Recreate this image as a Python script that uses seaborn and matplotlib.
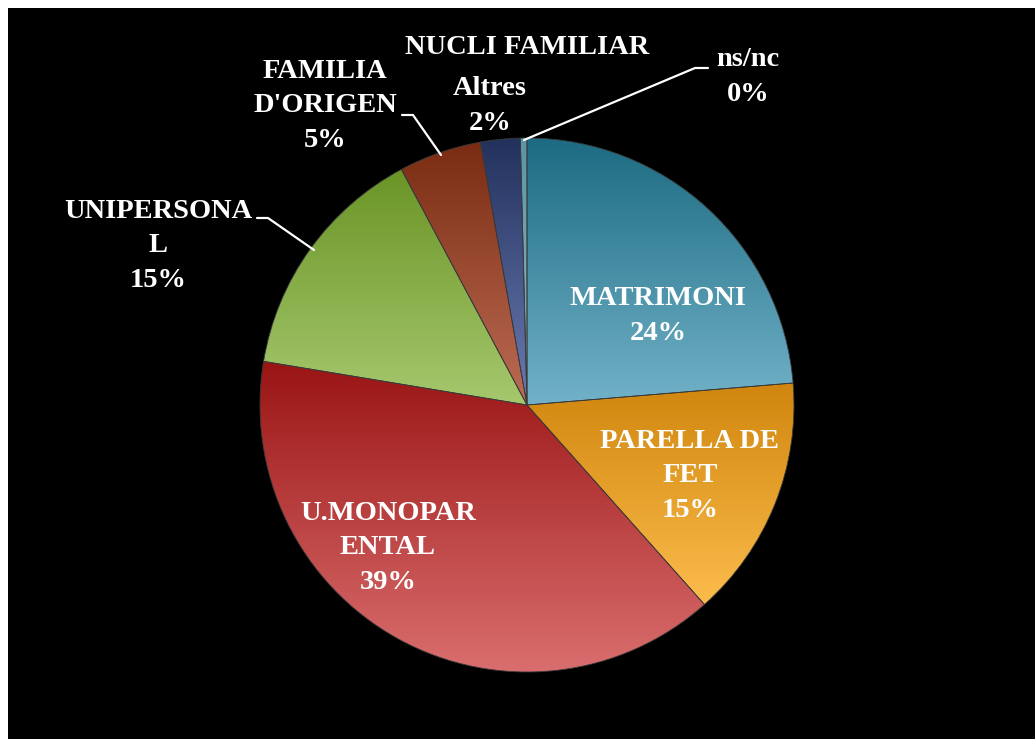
"""
Pie chart: NUCLI FAMILIAR (family unit distribution).
"""

import numpy as np
import matplotlib.pyplot as plt
import seaborn as sns
from matplotlib.colors import LinearSegmentedColormap

sns.set_style("dark")
plt.rcParams['font.family'] = ['Liberation Serif', 'DejaVu Serif']

# Data (clockwise from 12 o'clock)
categories = ["MATRIMONI", "PARELLA DE FET", "U.MONOPARENTAL", "UNIPERSONAL",
              "FAMILIA D'ORIGEN", "Altres", "ns/nc"]
shares = [23.7, 14.75, 39.2, 14.6, 5.0, 2.4, 0.4]
label_text = ["MATRIMONI\n24%", "PARELLA DE\nFET\n15%", "U.MONOPAR\nENTAL\n39%",
              "UNIPERSONA\nL\n15%", "FAMILIA\nD'ORIGEN\n5%", "Altres\n2%", "ns/nc\n0%"]
top_colors = ["#1c6b82", "#d0860e", "#9a1414", "#6a9426", "#7a2c12", "#22315c", "#5a96a6"]
bottom_colors = ["#72b2c8", "#fcbc4c", "#da6e6e", "#a6c86e", "#bc6c54", "#6c7cb4", "#8cbac6"]

W, H = 1035, 739
CX, CY, R = 527, 405, 267

fig = plt.figure(figsize=(W / 100, H / 100), dpi=100, facecolor="white")
bg = fig.add_axes([8 / W, 0, 1 - 8 / W, 1 - 8 / H])
bg.set_facecolor("black")
bg.set_xticks([])
bg.set_yticks([])
for s in bg.spines.values():
    s.set_visible(False)

ax = fig.add_axes([(CX - R) / W, (H - CY - R) / H, 2 * R / W, 2 * R / H])
ax.set_facecolor("none")
wedges, _ = ax.pie(shares, startangle=90, counterclock=False, radius=1,
                   wedgeprops=dict(linewidth=0.6, edgecolor="#3a3a3a"))
ax.set_xlim(-1, 1)
ax.set_ylim(-1, 1)
ax.set_aspect("equal")
ax.axis("off")

# vertical gradient fill per wedge, dark at the top
grad = np.linspace(0, 1, 256).reshape(-1, 1)
for w, c0, c1 in zip(wedges, top_colors, bottom_colors):
    w.set_facecolor("none")
    bb = w.get_path().get_extents()
    cmap = LinearSegmentedColormap.from_list("g", [c0, c1])
    im = ax.imshow(grad, cmap=cmap, aspect="auto",
                   extent=[bb.x0, bb.x1, bb.y0, bb.y1], origin="upper", zorder=1)
    im.set_clip_path(w)
    w.set_zorder(2)
ax.set_xlim(-1, 1)
ax.set_ylim(-1, 1)


def d(px, py):
    return (px - CX) / R, (CY - py) / R


# label block centres in pixels
label_px = [(658, 316), (690, 476), (388, 548), (158, 246), (325, 106), (490, 106), (748, 77)]
fs = 20.5
for txt, (px, py) in zip(label_text, label_px):
    ax.text(*d(px, py), txt, ha="center", va="center", color="white",
            fontsize=fs, fontweight="bold", linespacing=1.52, clip_on=False, zorder=5)

# leader lines
leaders = [
    [(257, 218), (268, 218), (314, 250)],
    [(402, 115), (413, 115), (441, 155)],
    [(708, 68), (695, 68), (524, 140)],
]
for pts in leaders:
    xs, ys = zip(*[d(*p) for p in pts])
    ax.plot(xs, ys, color="white", lw=1.6, clip_on=False, zorder=4)

fig.text(527 / W, 1 - 47 / H, "NUCLI FAMILIAR", ha="center", va="center",
         color="white", fontsize=fs, fontweight="bold")

fig.savefig("out.png", dpi=100, facecolor=fig.get_facecolor())
